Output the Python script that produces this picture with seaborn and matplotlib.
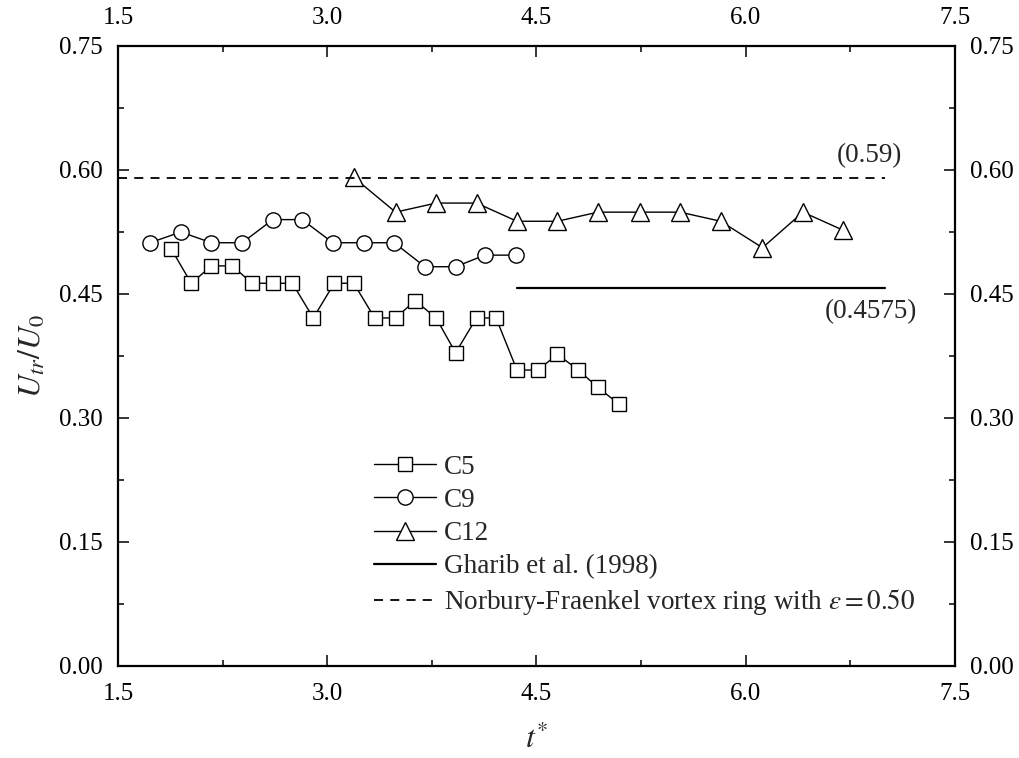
import numpy as np
import pandas as pd
import matplotlib
matplotlib.use("Agg")
import matplotlib.pyplot as plt
import seaborn as sns
from matplotlib.ticker import MultipleLocator

# ---- data ----
c5_t = [1.88, 2.025, 2.17, 2.32, 2.46, 2.61, 2.75, 2.90, 3.05, 3.19, 3.34, 3.49,
        3.63, 3.78, 3.92, 4.07, 4.21, 4.36, 4.51, 4.65, 4.80, 4.94, 5.09]
c5_u = [0.505, 0.463, 0.484, 0.484, 0.463, 0.463, 0.463, 0.421, 0.463, 0.463, 0.421, 0.421,
        0.442, 0.421, 0.379, 0.421, 0.421, 0.358, 0.358, 0.377, 0.358, 0.337, 0.317]

c9_t = [1.73, 1.95, 2.17, 2.39, 2.61, 2.82, 3.04, 3.26, 3.48, 3.70, 3.92, 4.13, 4.35]
c9_u = [0.512, 0.525, 0.512, 0.512, 0.540, 0.540, 0.512, 0.512, 0.512, 0.483, 0.483, 0.497, 0.497]

c12_t = [3.19, 3.49, 3.78, 4.07, 4.36, 4.65, 4.94, 5.24, 5.53, 5.82, 6.12, 6.41, 6.70]
c12_u = [0.591, 0.549, 0.560, 0.560, 0.538, 0.538, 0.549, 0.549, 0.549, 0.538, 0.506, 0.549, 0.527]

gharib_t = [4.36, 7.0]
gharib_u = [0.4575, 0.4575]

nf_t = [1.5, 7.0]
nf_u = [0.59, 0.59]

xticks = [1.5, 3.0, 4.5, 6.0, 7.5]
yticks = [0.00, 0.15, 0.30, 0.45, 0.60, 0.75]

# ---- style ----
sns.set_theme(style="ticks")
plt.rcParams["font.family"] = ["Liberation Serif", "DejaVu Serif"]
plt.rcParams["mathtext.fontset"] = "stix"

FS_TICK = 18
FS_TXT = 19.5

fig = plt.figure(figsize=(10.2, 7.58), dpi=100)
ax = fig.add_axes([118 / 1020, 1 - 666 / 758, (955 - 118) / 1020, (666 - 46) / 758])

mk = dict(color="black", markerfacecolor="white", markeredgecolor="black",
          markeredgewidth=1.0, linewidth=1.0)

sns.lineplot(x=c5_t, y=c5_u, ax=ax, marker="s", markersize=10, label="C5", **mk)
sns.lineplot(x=c9_t, y=c9_u, ax=ax, marker="o", markersize=11, label="C9", **mk)
sns.lineplot(x=c12_t, y=c12_u, ax=ax, marker="^", markersize=12.5, label="C12", **mk)
sns.lineplot(x=gharib_t, y=gharib_u, ax=ax, color="black", linewidth=1.6,
             label="Gharib et al. (1998)")
sns.lineplot(x=nf_t, y=nf_u, ax=ax, color="black", linewidth=1.3,
             linestyle=(0, (5, 4)),
             label=r"Norbury-Fraenkel vortex ring with $\varepsilon = 0.50$")

ax.set_xlim(1.5, 7.5)
ax.set_ylim(0.0, 0.75)
ax.set_xticks(xticks)
ax.set_yticks(yticks)
ax.set_xticklabels([f"{v:.1f}" for v in xticks])
ax.set_yticklabels([f"{v:.2f}" for v in yticks])
ax.xaxis.set_minor_locator(MultipleLocator(0.75))
ax.yaxis.set_minor_locator(MultipleLocator(0.075))

ax.tick_params(which="both", direction="in", top=True, right=True,
               labeltop=True, labelright=True, labelsize=FS_TICK, colors="black")
ax.tick_params(which="major", length=8, width=1.1)
ax.tick_params(which="minor", length=4.5, width=1.1)
ax.tick_params(axis="y", which="major", pad=11)
ax.tick_params(axis="x", which="major", pad=12)

for s in ax.spines.values():
    s.set_linewidth(1.6)
    s.set_color("black")

ax.set_xlabel(r"$t^{*}$", fontsize=23, labelpad=14)
ax.set_ylabel(r"$U_{tr}/U_0$", fontsize=23, labelpad=8)

ax.text(7.12, 0.609, "(0.59)", fontsize=FS_TXT, ha="right", va="baseline")
ax.text(7.23, 0.421, "(0.4575)", fontsize=FS_TXT, ha="right", va="baseline")

leg = ax.legend(loc="upper left", bbox_to_anchor=(363 / 1020, 1 - 444 / 758),
                bbox_transform=fig.transFigure, frameon=False, fontsize=FS_TXT,
                handlelength=2.3, handletextpad=0.28, labelspacing=0.3,
                borderaxespad=0)

fig.savefig("out.png", dpi=100)
